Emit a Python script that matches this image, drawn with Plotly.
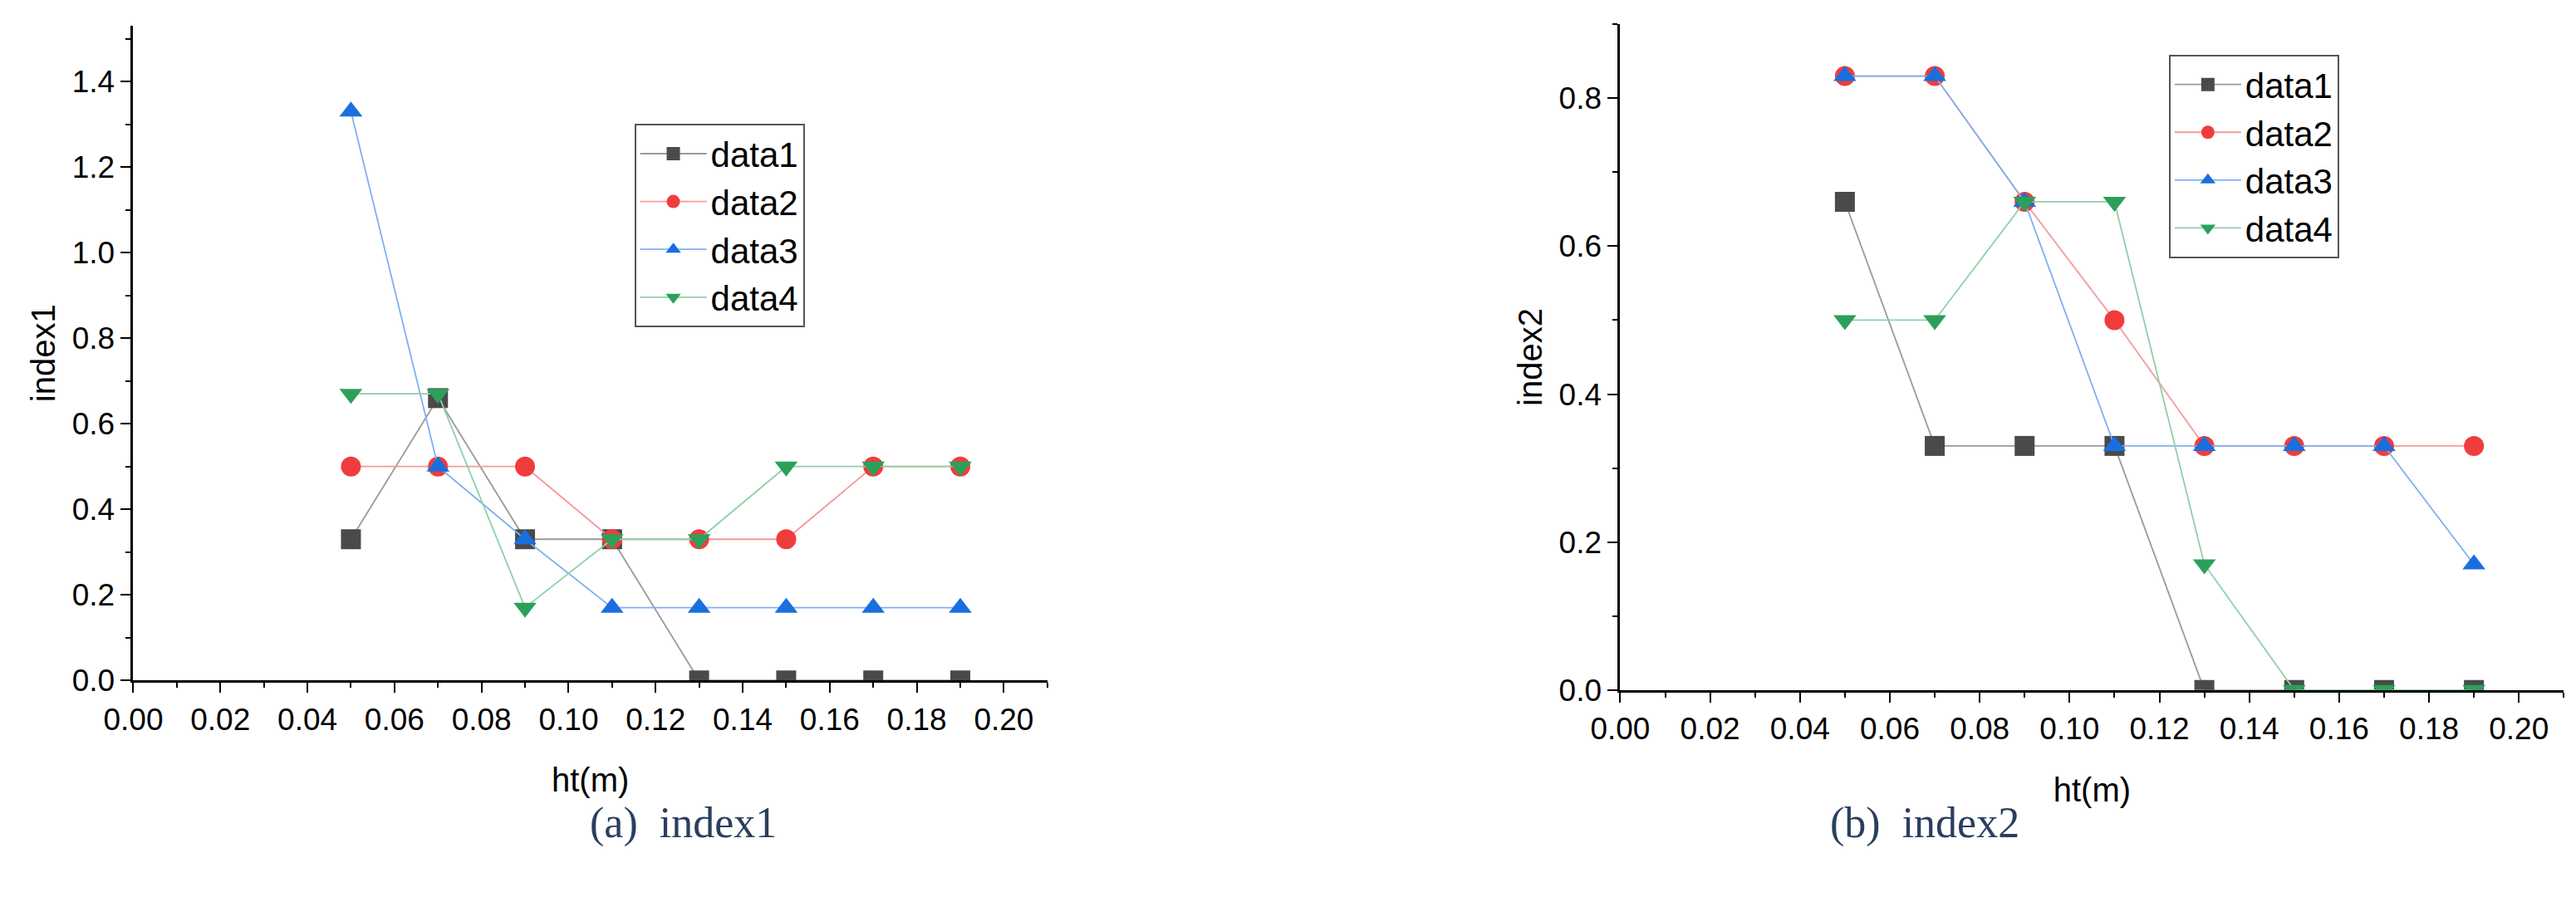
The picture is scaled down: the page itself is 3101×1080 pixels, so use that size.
import plotly.graph_objects as go

x = [0.05, 0.07, 0.09, 0.11, 0.13, 0.15, 0.17, 0.19]
names = ["data1", "data2", "data3", "data4"]
idx1 = {
    "data1": [0.33, 0.66, 0.33, 0.33, 0, 0, 0, 0],
    "data2": [0.5, 0.5, 0.5, 0.33, 0.33, 0.33, 0.5, 0.5],
    "data3": [1.33, 0.5, 0.33, 0.17, 0.17, 0.17, 0.17, 0.17],
    "data4": [0.67, 0.67, 0.17, 0.33, 0.33, 0.5, 0.5, 0.5],
}
idx2 = {
    "data1": [0.66, 0.33, 0.33, 0.33, 0, 0, 0, 0],
    "data2": [0.83, 0.83, 0.66, 0.5, 0.33, 0.33, 0.33, 0.33],
    "data3": [0.83, 0.83, 0.66, 0.33, 0.33, 0.33, 0.33, 0.17],
    "data4": [0.5, 0.5, 0.66, 0.66, 0.17, 0, 0, 0],
}
xticks = [0.00, 0.02, 0.04, 0.06, 0.08, 0.10, 0.12, 0.14, 0.16, 0.18, 0.20]

mcol = {"data1": "#4a4a4a", "data2": "#f03c3c", "data3": "#1a6fdf", "data4": "#2ca05a"}
lcol = {"data1": "#9a9a9a", "data2": "#f59a9a", "data3": "#7fb0f0", "data4": "#8fd0a8"}
sym = {"data1": "square", "data2": "circle", "data3": "triangle-up", "data4": "triangle-down"}

fig = go.Figure()
for panel, data, xa, ya, lg in [(1, idx1, "x", "y", "legend"), (2, idx2, "x2", "y2", "legend2")]:
    for n in names:
        fig.add_trace(go.Scatter(
            x=x, y=data[n], name=n, mode="lines+markers", xaxis=xa, yaxis=ya, legend=lg,
            line=dict(color=lcol[n], width=1.8),
            marker=dict(symbol=sym[n], size=24, color=mcol[n]),
        ))

font = dict(family="Liberation Sans, Arial", size=37, color="black")
tfont = dict(family="Liberation Sans, Arial", size=40, color="black")
axcommon = dict(showline=True, linecolor="black", linewidth=3, ticks="outside", ticklen=12,
                tickwidth=2, tickcolor="black", showgrid=False, zeroline=False,
                tickfont=font, mirror=False)
xax = dict(axcommon, range=[0, 0.21], tickvals=xticks, tickformat=".2f",
           minor=dict(dtick=0.01, ticks="outside", ticklen=6, tickcolor="black", tickwidth=2),
           title=dict(text="ht(m)", font=tfont, standoff=40))
legfont = dict(family="Liberation Sans, Arial", size=42, color="black")

fig.update_layout(
    width=3101, height=1080, paper_bgcolor="white", plot_bgcolor="white",
    margin=dict(l=0, r=0, t=0, b=0), showlegend=True,
    xaxis=dict(xax, domain=[0.038, 0.397], anchor="y"),
    yaxis=dict(axcommon, domain=[0.234, 0.978], range=[0, 1.53], dtick=0.2, tickformat=".1f",
               minor=dict(dtick=0.1, ticks="outside", ticklen=6, tickcolor="black", tickwidth=2),
               title=dict(text="index1", font=tfont, standoff=8), anchor="x"),
    xaxis2=dict(xax, domain=[0.622, 0.9926], anchor="y2"),
    yaxis2=dict(axcommon, domain=[0.223, 0.98], range=[0, 0.9], dtick=0.2, tickformat=".1f",
                minor=dict(dtick=0.1, ticks="outside", ticklen=6, tickcolor="black", tickwidth=2),
                title=dict(text="index2", font=tfont, standoff=8), anchor="x2"),
    legend=dict(x=728/3101, y=1-144/1080, xanchor="left", yanchor="top", bordercolor="#555",
                borderwidth=2, font=legfont, bgcolor="white", itemwidth=80, tracegroupgap=0),
    legend2=dict(x=2597/3101, y=1-59/1080, xanchor="left", yanchor="top", bordercolor="#555",
                 borderwidth=2, font=legfont, bgcolor="white", itemwidth=80, tracegroupgap=0),
    annotations=[
        dict(text="(a)  index1", x=672/3101, y=1-1034/1080, xref="paper", yref="paper",
             showarrow=False, font=dict(family="Liberation Serif, DejaVu Serif", size=52)),
        dict(text="(b)  index2", x=2417/3101, y=1-1034/1080, xref="paper", yref="paper",
             showarrow=False, font=dict(family="Liberation Serif, DejaVu Serif", size=52)),
    ],
)
fig.write_html("out.html")
